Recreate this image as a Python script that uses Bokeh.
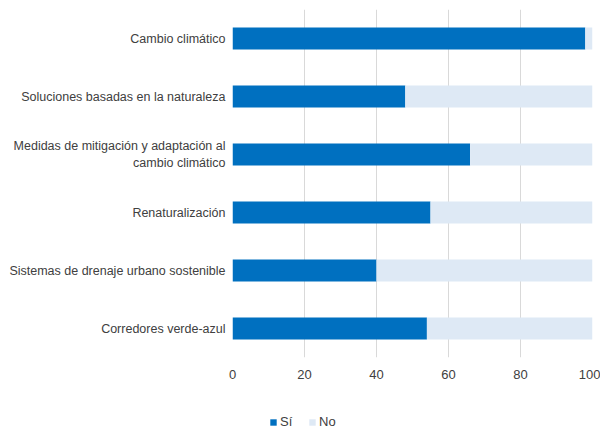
from bokeh.plotting import figure
from bokeh.models import Legend, LegendItem, ColumnDataSource
from bokeh.layouts import column
from bokeh.embed import file_html
from bokeh.resources import INLINE

categories = [
    "Cambio climático",
    "Soluciones basadas en la naturaleza",
    "Medidas de mitigación y adaptación al\ncambio climático",
    "Renaturalización",
    "Sistemas de drenaje urbano sostenible",
    "Corredores verde-azul",
]
si = [98, 48, 66, 55, 40, 54]
no = [100 - v for v in si]
x_ticks = [0, 20, 40, 60, 80, 100]
series_names = ["Sí", "No"]

SI_COLOR = "#0070C0"
NO_COLOR = "#DEE9F5"
FONT = "Liberation Sans"

y_factors = list(reversed(categories))
src = ColumnDataSource(dict(cat=categories, si=si, no=no))

p = figure(width=600, height=397, y_range=y_factors, x_range=(0, 100),
           output_backend="svg", toolbar_location=None,
           min_border_top=9, min_border_right=8, min_border_left=232,
           min_border_bottom=40)
p.outline_line_color = None

r = p.hbar_stack(["si", "no"], y="cat", height=0.38, color=[SI_COLOR, NO_COLOR],
                 source=src, line_color=None)

p.xaxis.ticker = x_ticks
p.xaxis.axis_line_color = None
p.xaxis.major_tick_line_color = None
p.xaxis.minor_tick_line_color = None
p.xaxis.major_label_text_font = FONT
p.xaxis.major_label_text_font_size = "13px"
p.xaxis.major_label_text_color = "#404040"
p.xaxis.major_label_standoff = 6

p.yaxis.axis_line_color = None
p.yaxis.major_tick_line_color = None
p.yaxis.minor_tick_line_color = None
p.yaxis.major_label_text_font = FONT
p.yaxis.major_label_text_font_size = "12.5px"
p.yaxis.major_label_text_color = "#404040"
p.yaxis.major_label_standoff = 1

p.xgrid.grid_line_color = "#D9D9D9"
p.xgrid.grid_line_width = 1
p.ygrid.grid_line_color = None

# legend strip below the chart: zero-height copies of the bars, outside the
# visible range, so only the legend swatches show
lp = figure(width=600, height=32, output_backend="svg", toolbar_location=None,
            min_border=0, x_axis_type=None, y_axis_type=None,
            y_range=y_factors, x_range=(200, 300))
lp.outline_line_color = None
lp.xgrid.grid_line_color = None
lp.ygrid.grid_line_color = None
lr = lp.hbar_stack(["si", "no"], y="cat", height=0, color=[SI_COLOR, NO_COLOR],
                   source=src, line_color=None)

legend = Legend(items=[LegendItem(label=n, renderers=[g]) for n, g in zip(series_names, lr)],
                orientation="horizontal", location=(37, 0),
                label_text_font=FONT, label_text_font_size="13px",
                label_text_color="#404040", glyph_width=8, glyph_height=8,
                spacing=8, label_standoff=3, padding=0, margin=0,
                label_height=12,
                background_fill_alpha=0, border_line_color=None)
lp.add_layout(legend, "center")

layout = column(p, lp, spacing=0)
open("out.html", "w").write(file_html(layout, INLINE))
